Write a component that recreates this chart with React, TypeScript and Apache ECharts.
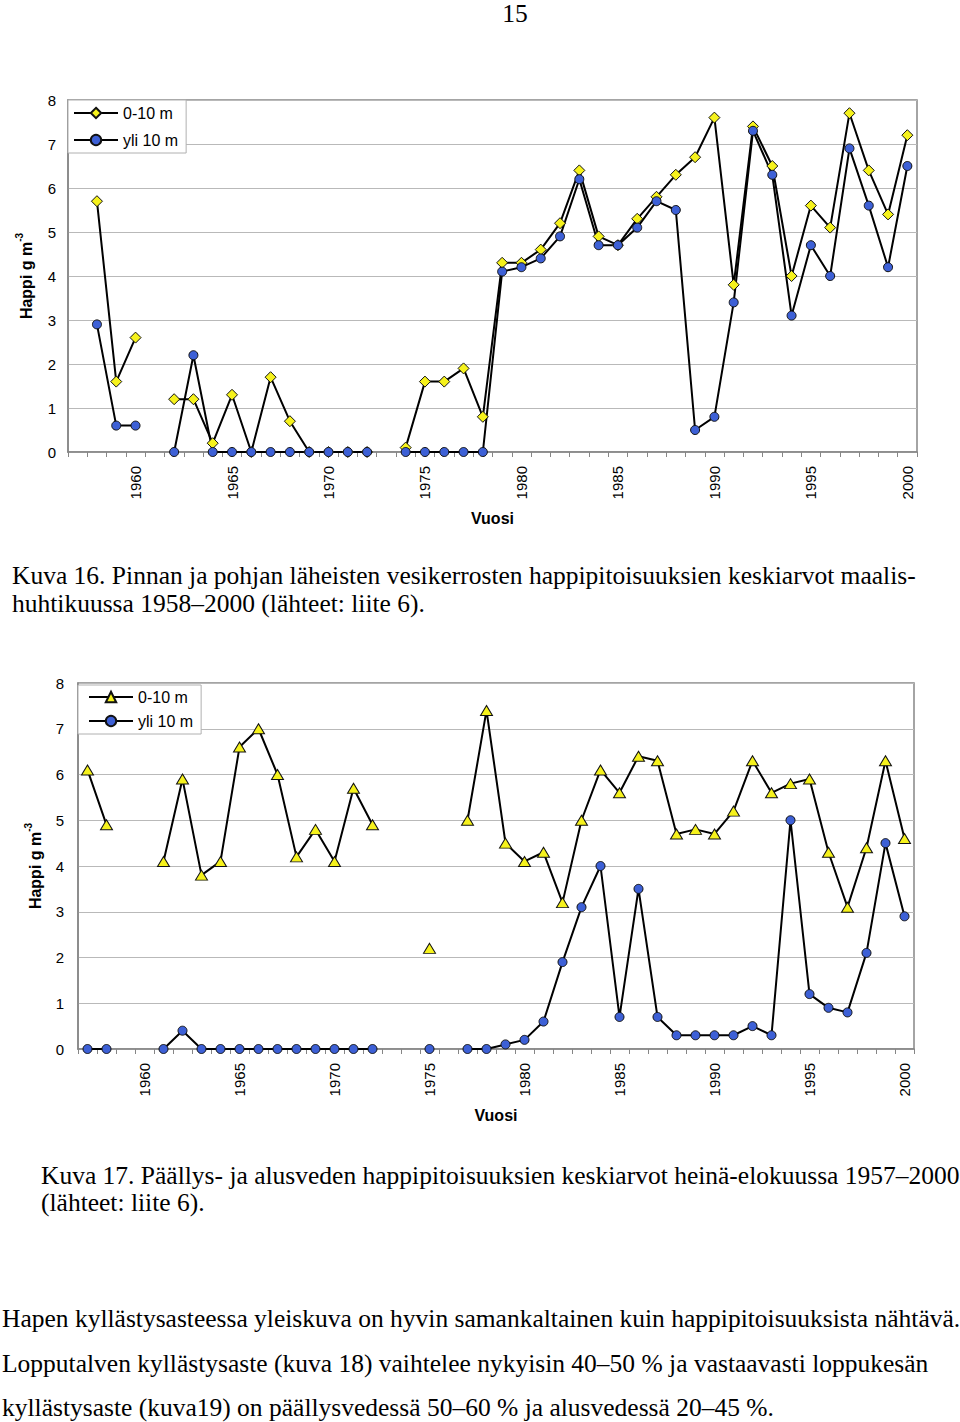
import React, { useEffect, useRef } from "react";
import * as echarts from "echarts";

const years = [
  "1957", "1958", "1959", "1960", "1961", "1962", "1963", "1964", "1965", "1966",
  "1967", "1968", "1969", "1970", "1971", "1972", "1973", "1974", "1975", "1976",
  "1977", "1978", "1979", "1980", "1981", "1982", "1983", "1984", "1985", "1986",
  "1987", "1988", "1989", "1990", "1991", "1992", "1993", "1994", "1995", "1996",
  "1997", "1998", "1999", "2000",
];

// Kuva 16 (maalis-huhtikuu)
const winterSurface = [
  null, 5.7, 1.6, 2.6, null, 1.2, 1.2, 0.2, 1.3, 0,
  1.7, 0.7, 0, 0, 0, 0, null, 0.1, 1.6, 1.6,
  1.9, 0.8, 4.3, 4.3, 4.6, 5.2, 6.4, 4.9, 4.7, 5.3,
  5.8, 6.3, 6.7, 7.6, 3.8, 7.4, 6.5, 4.0, 5.6, 5.1,
  7.7, 6.4, 5.4, 7.2,
];
const winterDeep = [
  null, 2.9, 0.6, 0.6, null, 0, 2.2, 0, 0, 0,
  0, 0, 0, 0, 0, 0, null, 0, 0, 0,
  0, 0, 4.1, 4.2, 4.4, 4.9, 6.2, 4.7, 4.7, 5.1,
  5.7, 5.5, 0.5, 0.8, 3.4, 7.3, 6.3, 3.1, 4.7, 4.0,
  6.9, 5.6, 4.2, 6.5,
];

// Kuva 17 (heinä-elokuu)
const summerSurface = [
  6.1, 4.9, null, null, 4.1, 5.9, 3.8, 4.1, 6.6, 7.0,
  6.0, 4.2, 4.8, 4.1, 5.7, 4.9, null, null, 2.2, null,
  5.0, 7.4, 4.5, 4.1, 4.3, 3.2, 5.0, 6.1, 5.6, 6.4,
  6.3, 4.7, 4.8, 4.7, 5.2, 6.3, 5.6, 5.8, 5.9, 4.3,
  3.1, 4.4, 6.3, 4.6,
];
const summerDeep = [
  0, 0, null, null, 0, 0.4, 0, 0, 0, 0,
  0, 0, 0, 0, 0, 0, null, null, 0, null,
  0, 0, 0.1, 0.2, 0.6, 1.9, 3.1, 4.0, 0.7, 3.5,
  0.7, 0.3, 0.3, 0.3, 0.3, 0.5, 0.3, 5.0, 1.2, 0.9,
  0.8, 2.1, 4.5, 2.9,
];

const seriesNames = ["0-10 m", "yli 10 m"];
const yAxisTitle = "{a|Happi g m}{b|-3}";
const xAxisTitle = "Vuosi";

const pageNumber = "15";
const caption16 = [
  "Kuva 16. Pinnan ja pohjan läheisten vesikerrosten happipitoisuuksien keskiarvot maalis-",
  "huhtikuussa 1958–2000 (lähteet: liite 6).",
];
const caption17 = [
  "Kuva 17. Päällys- ja alusveden happipitoisuuksien keskiarvot heinä-elokuussa 1957–2000",
  "(lähteet: liite 6).",
];
const bodyText = [
  "Hapen kyllästysasteessa yleiskuva on hyvin samankaltainen kuin happipitoisuuksista nähtävä.",
  "Lopputalven kyllästysaste (kuva 18) vaihtelee nykyisin 40–50 % ja vastaavasti loppukesän",
  "kyllästysaste (kuva19) on päällysvedessä 50–60 % ja alusvedessä 20–45 %.",
];

const SANS = "'Liberation Sans', Arial, sans-serif";
const SERIF = "'Liberation Serif', 'Times New Roman', serif";
const AXIS_GRAY = "#868686";
const GRID_GRAY = "#b9b9b9";
const YELLOW = "#f6f21c";
const BLUE = "#3d60d6";

function makeXAxis(gridIndex: number) {
  return {
    type: "category",
    gridIndex,
    data: years,
    boundaryGap: true,
    axisLine: { show: true, lineStyle: { color: AXIS_GRAY, width: 1.5 } },
    axisTick: { show: true, interval: 0, length: 5, lineStyle: { color: AXIS_GRAY, width: 1 } },
    axisLabel: {
      interval: (_i: number, v: string) => Number(v) % 5 === 0,
      rotate: 90,
      margin: 14,
      fontSize: 15,
      fontFamily: SANS,
      color: "#000",
    },
    splitLine: { show: false },
    name: xAxisTitle,
    nameLocation: "middle",
    nameGap: 58,
    nameTextStyle: { fontSize: 16, fontWeight: "bold", fontFamily: SANS, color: "#000" },
  };
}

function makeYAxis(gridIndex: number, labelMargin: number, nameGap: number) {
  return {
    type: "value",
    gridIndex,
    min: 0,
    max: 8,
    interval: 1,
    axisLine: { show: true, lineStyle: { color: AXIS_GRAY, width: 1.5 } },
    axisTick: { show: false },
    axisLabel: { margin: labelMargin, fontSize: 15, fontFamily: SANS, color: "#000" },
    splitLine: { show: true, lineStyle: { color: GRID_GRAY, width: 1 } },
    name: yAxisTitle,
    nameLocation: "middle",
    nameRotate: 90,
    nameGap,
    nameTextStyle: {
      fontFamily: SANS,
      color: "#000",
      rich: {
        a: { fontSize: 16, fontWeight: "bold", fontFamily: SANS, color: "#000", lineHeight: 24 },
        b: { fontSize: 10, fontWeight: "bold", fontFamily: SANS, color: "#000", lineHeight: 10, verticalAlign: "top" },
      },
    },
  };
}

function lineSeries(name: string, data: (number | null)[], idx: number, symbol: string, symbolSize: any, color: string) {
  return {
    name,
    type: "line",
    xAxisIndex: idx,
    yAxisIndex: idx,
    data,
    symbol,
    symbolSize,
    showSymbol: true,
    showAllSymbol: true,
    connectNulls: false,
    lineStyle: { color: "#000", width: 2 },
    itemStyle: { color, borderColor: "#111", borderWidth: 1 },
    emphasis: { disabled: true },
  };
}

function textLine(text: string, x: number, y: number, align = "left") {
  return {
    type: "text",
    x,
    y,
    style: {
      text,
      fontSize: 25.5,
      fontFamily: SERIF,
      fill: "#000",
      align,
      verticalAlign: "middle",
    },
  };
}

export default function App() {
  const ref = useRef<HTMLDivElement>(null);

  useEffect(() => {
    if (!ref.current) return;
    const chart = echarts.init(ref.current, null, { renderer: "svg" });
    const option: any = {
      animation: false,
      backgroundColor: "#fff",
      grid: [
        { left: 68, top: 100, width: 849, height: 352, show: true, borderColor: AXIS_GRAY, borderWidth: 1.5, containLabel: false, outerBoundsMode: "none" },
        { left: 78, top: 683, width: 836, height: 366, show: true, borderColor: AXIS_GRAY, borderWidth: 1.5, containLabel: false, outerBoundsMode: "none" },
      ],
      xAxis: [makeXAxis(0), makeXAxis(1)],
      yAxis: [makeYAxis(0, 12, 30), makeYAxis(1, 14, 31)],
      legend: [
        {
          left: 68,
          top: 100,
          orient: "vertical",
          data: seriesNames,
          itemWidth: 44,
          itemHeight: 13,
          itemGap: 11,
          padding: [5, 8, 5, 5],
          backgroundColor: "#fff",
          borderColor: "#b0b0b0",
          borderWidth: 1,
          borderRadius: 0,
          selectedMode: false,
          textStyle: { fontSize: 16, color: "#000", fontFamily: SANS },
        },
        {
          left: 78,
          top: 685,
          orient: "vertical",
          data: seriesNames.map((n) => n + " "),
          formatter: (n: string) => n.trim(),
          itemWidth: 44,
          itemHeight: 13,
          itemGap: 8,
          padding: [4, 8, 5, 10],
          backgroundColor: "#fff",
          borderColor: "#b0b0b0",
          borderWidth: 1,
          borderRadius: 0,
          selectedMode: false,
          textStyle: { fontSize: 16, color: "#000", fontFamily: SANS },
        },
      ],
      series: [
        lineSeries(seriesNames[0], winterSurface, 0, "diamond", 11, YELLOW),
        lineSeries(seriesNames[1], winterDeep, 0, "circle", 9, BLUE),
        lineSeries(seriesNames[0] + " ", summerSurface, 1, "triangle", [12, 10], YELLOW),
        lineSeries(seriesNames[1] + " ", summerDeep, 1, "circle", 9, BLUE),
      ],
      graphic: [
        textLine(pageNumber, 515, 13, "center"),
        textLine(caption16[0], 12, 575),
        textLine(caption16[1], 12, 603),
        textLine(caption17[0], 41, 1175),
        textLine(caption17[1], 41, 1202),
        textLine(bodyText[0], 2, 1318),
        textLine(bodyText[1], 2, 1363),
        textLine(bodyText[2], 2, 1407),
      ],
    };
    chart.setOption(option);
    return () => chart.dispose();
  }, []);

  return (
    <div
      ref={ref}
      style={{ position: "absolute", left: 0, top: 0, width: 960, height: 1422 }}
    />
  );
}
